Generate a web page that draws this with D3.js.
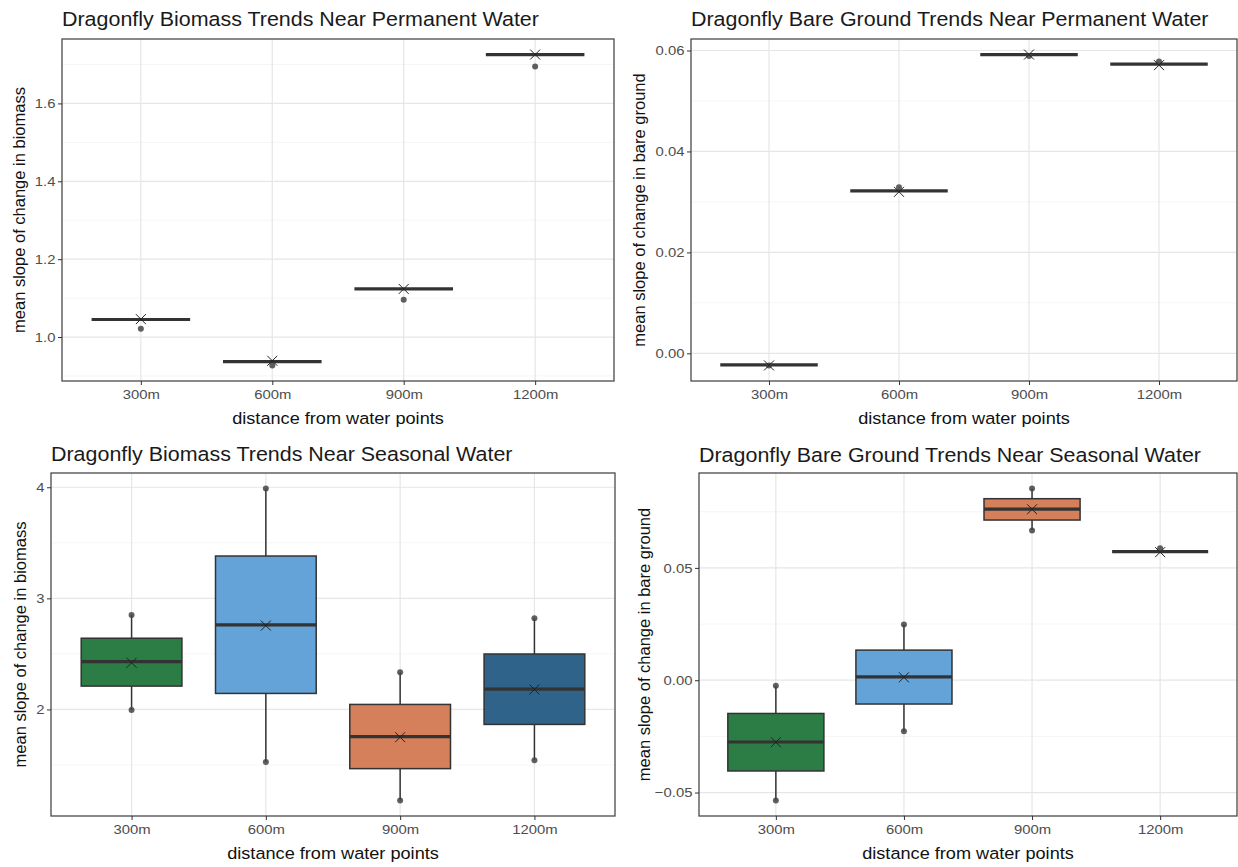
<!DOCTYPE html>
<html>
<head>
<meta charset="utf-8">
<script src="https://cdn.jsdelivr.net/npm/d3@7"></script>
<style>
  body { margin: 0; background: #fff; }
  svg { display: block; font-family: 'Liberation Sans', Arial, sans-serif; }
</style>
</head>
<body>
<svg id="chart" width="1238" height="867"></svg>
<script>
const categories = ['300m', '600m', '900m', '1200m']
const fillColors = ['#2b7d45', '#63a3d7', '#d57f5b', '#2f6389']

/* biomass, permanent water */
const bioPermMedian = [1.045, 0.937, 1.1235, 1.7255]
const bioPermMean = [1.046, 0.939, 1.1235, 1.7255]
const bioPermPoints = [[1.021], [0.927], [1.096], [1.695]]
const bioPermTicks = [1.0, 1.2, 1.4, 1.6]

/* bare ground, permanent water */
const barePermMedian = [-0.0023, 0.0322, 0.0592, 0.0573]
const barePermMean = [-0.0024, 0.0320, 0.0592, 0.0571]
const barePermPoints = [[-0.0024], [0.0329], [0.0589], [0.0578]]
const barePermTicks = [0.00, 0.02, 0.04, 0.06]

/* biomass, seasonal water */
const bioSeasQ1 = [2.21, 2.144, 1.467, 1.865]
const bioSeasMedian = [2.43, 2.761, 1.756, 2.183]
const bioSeasQ3 = [2.641, 3.381, 2.045, 2.499]
const bioSeasLow = [1.994, 1.527, 1.181, 1.542]
const bioSeasHigh = [2.851, 3.988, 2.334, 2.821]
const bioSeasMean = [2.42, 2.755, 1.75, 2.18]
const bioSeasPoints = [[2.851, 1.994], [3.988, 1.527], [2.334, 1.181], [2.821, 1.542]]
const bioSeasTicks = [2, 3, 4]

/* bare ground, seasonal water */
const bareSeasQ1 = [-0.0404, -0.0106, 0.0713, 0.0572]
const bareSeasMedian = [-0.0275, 0.0015, 0.0762, 0.0572]
const bareSeasQ3 = [-0.0148, 0.0134, 0.0808, 0.0572]
const bareSeasLow = [-0.0535, -0.0227, 0.0667, 0.0572]
const bareSeasHigh = [-0.0025, 0.0248, 0.0853, 0.0572]
const bareSeasMean = [-0.0276, 0.0013, 0.0761, 0.0570]
const bareSeasPoints = [[-0.0025, -0.0535], [0.0248, -0.0227], [0.0853, 0.0667], [0.0587]]
const bareSeasTicks = [-0.05, 0.00, 0.05]

// the source picture is a little stretched sideways, so text gets widened
const stretch = 1.1

const svg = d3.select('#chart')

function buildRows(q1, median, q3, low, high, mean, points) {
  return categories.map((c, i) => ({
    cat: c,
    color: fillColors[i],
    q1: q1[i], median: median[i], q3: q3[i],
    low: low[i], high: high[i],
    mean: mean[i], points: points[i]
  }))
}

function drawPanel(opts) {
  const { box, title, yTitle, rows, ticks, tickFormat, filled } = opts
  const g = svg.append('g')

  const x = d3.scalePoint()
    .domain(categories)
    .range([box.left, box.right])
    .padding(0.6)
  const step = x.step()
  const boxW = step * 0.75

  // 5% expansion like ggplot
  const allVals = rows.flatMap(r => [r.q1, r.q3, r.low, r.high, r.median, ...r.points])
  const [lo, hi] = d3.extent(allVals)
  const pad = (hi - lo) * 0.05
  const y = d3.scaleLinear()
    .domain([lo - pad, hi + pad])
    .range([box.bottom, box.top])

  const tickStep = ticks[1] - ticks[0]
  const minor = d3.range(ticks[0] - tickStep * 1.5, ticks[ticks.length - 1] + tickStep, tickStep)
    .filter(v => v >= y.domain()[0] && v <= y.domain()[1])

  /* grid */
  g.selectAll('line.minor').data(minor).enter().append('line')
    .attr('x1', box.left).attr('x2', box.right)
    .attr('y1', d => y(d)).attr('y2', d => y(d))
    .attr('stroke', '#f2f2f2').attr('stroke-width', 0.8)
  g.selectAll('line.major').data(ticks).enter().append('line')
    .attr('x1', box.left).attr('x2', box.right)
    .attr('y1', d => y(d)).attr('y2', d => y(d))
    .attr('stroke', '#e6e6e6').attr('stroke-width', 1.2)
  g.selectAll('line.vgrid').data(categories).enter().append('line')
    .attr('x1', d => x(d)).attr('x2', d => x(d))
    .attr('y1', box.top).attr('y2', box.bottom)
    .attr('stroke', '#e6e6e6').attr('stroke-width', 1.2)

  /* boxes */
  const b = g.selectAll('g.box').data(rows).enter().append('g').attr('class', 'box')
  b.append('line')
    .attr('x1', d => x(d.cat)).attr('x2', d => x(d.cat))
    .attr('y1', d => y(d.high)).attr('y2', d => y(d.q3))
    .attr('stroke', '#333').attr('stroke-width', 1.5)
  b.append('line')
    .attr('x1', d => x(d.cat)).attr('x2', d => x(d.cat))
    .attr('y1', d => y(d.q1)).attr('y2', d => y(d.low))
    .attr('stroke', '#333').attr('stroke-width', 1.5)
  b.append('rect')
    .attr('x', d => x(d.cat) - boxW / 2)
    .attr('width', boxW)
    .attr('y', d => y(d.q3))
    .attr('height', d => y(d.q1) - y(d.q3))
    .attr('fill', d => filled ? d.color : 'none')
    .attr('stroke', '#333').attr('stroke-width', 1.5)
  b.append('line')
    .attr('x1', d => x(d.cat) - boxW / 2).attr('x2', d => x(d.cat) + boxW / 2)
    .attr('y1', d => y(d.median)).attr('y2', d => y(d.median))
    .attr('stroke', '#333').attr('stroke-width', 3.2)

  /* points */
  b.selectAll('circle').data(d => d.points.map(v => ({ cat: d.cat, v }))).enter()
    .append('circle')
    .attr('cx', d => x(d.cat)).attr('cy', d => y(d.v))
    .attr('r', 3)
    .attr('fill', '#444').attr('fill-opacity', 0.85)

  /* mean marker */
  const s = 5
  b.append('path')
    .attr('d', d => {
      const cx = x(d.cat), cy = y(d.mean)
      return `M${cx - s},${cy - s}L${cx + s},${cy + s}M${cx - s},${cy + s}L${cx + s},${cy - s}`
    })
    .attr('stroke', '#222').attr('stroke-width', 1).attr('fill', 'none')

  /* frame */
  g.append('rect')
    .attr('x', box.left).attr('y', box.top)
    .attr('width', box.right - box.left).attr('height', box.bottom - box.top)
    .attr('fill', 'none').attr('stroke', '#4a4a4a').attr('stroke-width', 1.3)

  /* axes */
  const yAxis = g.append('g')
    .attr('transform', `translate(${box.left},0)`)
    .call(d3.axisLeft(y).tickValues(ticks).tickFormat(tickFormat).tickSize(4).tickPadding(2))
  const xAxis = g.append('g')
    .attr('transform', `translate(0,${box.bottom})`)
    .call(d3.axisBottom(x).tickSize(4).tickPadding(4))
  ;[yAxis, xAxis].forEach(a => {
    a.select('.domain').remove()
    a.selectAll('line').attr('stroke', '#333')
    a.selectAll('text').attr('fill', '#4d4d4d').attr('font-size', 13.5)
      .attr('font-family', "'Liberation Sans', Arial, sans-serif")
      .attr('transform', `scale(${stretch},1)`)
  })

  /* titles */
  g.append('text')
    .attr('transform', `translate(${box.left},${box.titleY}) scale(${stretch},1)`)
    .attr('font-size', 19.5).attr('fill', '#1a1a1a')
    .text(title)
  g.append('text')
    .attr('transform', `translate(${(box.left + box.right) / 2},${box.bottom + 43}) scale(${stretch},1)`)
    .attr('text-anchor', 'middle')
    .attr('font-size', 16.5).attr('fill', '#111')
    .text('distance from water points')
  g.append('text')
    .attr('transform', `translate(${box.yTitleX},${(box.top + box.bottom) / 2}) rotate(-90)`)
    .attr('text-anchor', 'middle')
    .attr('font-size', 16.5).attr('fill', '#111')
    .text(yTitle)
}

drawPanel({
  box: { left: 62, top: 39, right: 614, bottom: 381, titleY: 26, yTitleX: 25 },
  title: 'Dragonfly Biomass Trends Near Permanent Water',
  yTitle: 'mean slope of change in biomass',
  rows: buildRows(bioPermMedian, bioPermMedian, bioPermMedian, bioPermMedian, bioPermMedian, bioPermMean, bioPermPoints),
  ticks: bioPermTicks,
  tickFormat: d3.format('.1f'),
  filled: false
})

drawPanel({
  box: { left: 691, top: 39, right: 1237, bottom: 381, titleY: 26, yTitleX: 645 },
  title: 'Dragonfly Bare Ground Trends Near Permanent Water',
  yTitle: 'mean slope of change in bare ground',
  rows: buildRows(barePermMedian, barePermMedian, barePermMedian, barePermMedian, barePermMedian, barePermMean, barePermPoints),
  ticks: barePermTicks,
  tickFormat: d3.format('.2f'),
  filled: false
})

drawPanel({
  box: { left: 51, top: 473, right: 615, bottom: 816, titleY: 461, yTitleX: 26 },
  title: 'Dragonfly Biomass Trends Near Seasonal Water',
  yTitle: 'mean slope of change in biomass',
  rows: buildRows(bioSeasQ1, bioSeasMedian, bioSeasQ3, bioSeasLow, bioSeasHigh, bioSeasMean, bioSeasPoints),
  ticks: bioSeasTicks,
  tickFormat: d3.format('d'),
  filled: true
})

drawPanel({
  box: { left: 699, top: 473, right: 1237, bottom: 816, titleY: 462, yTitleX: 650 },
  title: 'Dragonfly Bare Ground Trends Near Seasonal Water',
  yTitle: 'mean slope of change in bare ground',
  rows: buildRows(bareSeasQ1, bareSeasMedian, bareSeasQ3, bareSeasLow, bareSeasHigh, bareSeasMean, bareSeasPoints),
  ticks: bareSeasTicks,
  tickFormat: d3.format('.2f'),
  filled: true
})
</script>
</body>
</html>
